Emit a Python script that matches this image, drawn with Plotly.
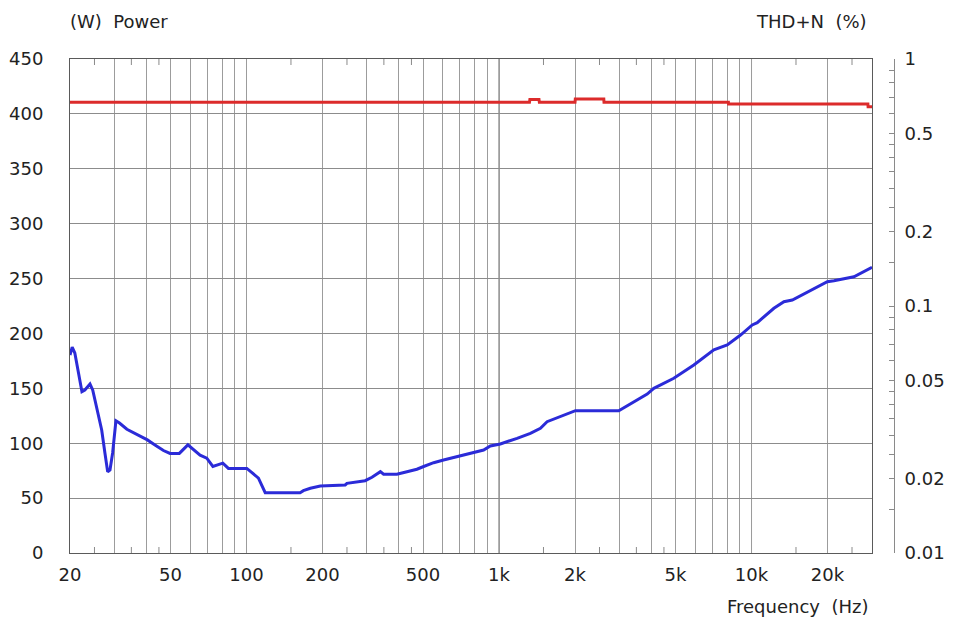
import plotly.graph_objects as go

# ---- data ----
POWER_FREQ = [20, 1320, 1325, 1440, 1445, 2000, 2005, 2600, 2605, 8100, 8110, 28900, 28950, 30000]
POWER_W = [410.5, 410.5, 413, 413, 410.5, 410.5, 413.5, 413.5, 410.5, 410.5, 409, 409, 406.5, 406.5]

THD_FREQ = [20, 20.4, 20.9, 22.3, 22.9, 24.0, 24.6, 25.5, 26.7, 27.5, 28.2, 28.8, 29.5, 30.4, 31.4,
            33.6, 35.1, 37.9, 40.5, 43.4, 46.9, 49.8, 54.2, 58.6, 61.3, 65.5, 69.6, 73.6, 80.6, 84.8,
            100.3, 105, 111.5, 118.6, 163, 168, 179, 196, 246, 250, 295, 314, 339, 349, 394, 432,
            473, 503, 551, 603, 682, 770, 869, 924, 1012, 1179, 1331, 1459, 1550, 2007, 2980, 3862,
            4102, 4922, 5910, 7092, 8014, 9048, 10068, 10538, 12264, 13436, 14506, 19960, 21200,
            25440, 30000]
THD_PCT = [0.0633, 0.0681, 0.0645, 0.0450, 0.0457, 0.0483, 0.0457, 0.0386, 0.0315, 0.0254, 0.0213,
           0.0217, 0.0254, 0.0343, 0.0336, 0.0317, 0.0310, 0.0298, 0.0287, 0.0274, 0.0260, 0.0253,
           0.0253, 0.0274, 0.0264, 0.0249, 0.0242, 0.0224, 0.0231, 0.0220, 0.0220, 0.0211, 0.0201,
           0.01754, 0.01754, 0.01788, 0.01828, 0.01868, 0.01886, 0.01915, 0.01962, 0.02025, 0.02134,
           0.02083, 0.02083, 0.02134, 0.02183, 0.0224, 0.0232, 0.02379, 0.02454, 0.0253, 0.02612,
           0.02711, 0.02763, 0.02913, 0.03052, 0.03198, 0.0340, 0.03768, 0.03768, 0.0440, 0.0464,
           0.0510, 0.0577, 0.0664, 0.0695, 0.0763, 0.0838, 0.0856, 0.0979, 0.1041, 0.1057, 0.1254,
           0.1266, 0.1314, 0.1434]

X_GRID = [30, 40, 50, 60, 70, 80, 90, 100, 200, 300, 400, 500, 600, 700, 800, 900,
          1000, 2000, 3000, 4000, 5000, 6000, 7000, 8000, 9000, 10000, 20000]
X_LABELED = {20: "20", 50: "50", 100: "100", 200: "200", 500: "500", 1000: "1k",
             2000: "2k", 5000: "5k", 10000: "10k", 20000: "20k"}
X_MINOR = [25, 35, 45, 150, 250, 350, 450, 1500, 2500, 3500, 4500, 15000, 25000]
X_DECADES = [100, 1000, 10000]

Y_LEFT_RANGE = [0, 450]
Y_LEFT_TICKS = [0, 50, 100, 150, 200, 250, 300, 350, 400, 450]
Y_RIGHT_TICKS = [1, 0.9, 0.8, 0.7, 0.6, 0.5, 0.45, 0.4, 0.35, 0.3, 0.25, 0.2, 0.15,
                 0.1, 0.09, 0.08, 0.07, 0.06, 0.05, 0.045, 0.04, 0.035, 0.03, 0.025, 0.02, 0.015, 0.01]
Y_RIGHT_LABELS = {1: "1", 0.5: "0.5", 0.2: "0.2", 0.1: "0.1", 0.05: "0.05", 0.02: "0.02", 0.01: "0.01"}

FONT = "DejaVu Sans"
TXT = "#222222"
GRID_LIGHT = "#9c9c9c"
FRAME = "#5a5a5a"

x_tickvals = [20] + X_GRID
x_ticktext = [X_LABELED.get(v, "") for v in x_tickvals]
X_RANGE = [1.30103, 4.4771213]

# page body has an 8px margin: compensate so the plot lands where the reference has it
OFF = 8
W, H = 955 - OFF, 622 - OFF
L, T = 70 - OFF, 59 - OFF
plot_bottom = 553 - OFF
x_right = 872 - OFF
axis2_px = 894 - OFF
R = 50
B = H - plot_bottom
plot_w = W - L - R
plot_h = H - T - B
x_domain = [0, (x_right - L) / plot_w]
# short tick length (6 px) expressed in left-axis units
tick_len = 6 * (Y_LEFT_RANGE[1] - Y_LEFT_RANGE[0]) / plot_h

fig = go.Figure()
fig.add_trace(go.Scatter(x=POWER_FREQ, y=POWER_W, mode="lines",
                         line=dict(color="#dc2b2b", width=3), yaxis="y", showlegend=False))
fig.add_trace(go.Scatter(x=THD_FREQ, y=THD_PCT, mode="lines",
                         line=dict(color="#2b2bd8", width=3), yaxis="y2", showlegend=False))

# darker decade grid lines (axis-referenced so they sit above the plot background)
for d in X_DECADES:
    fig.add_shape(type="line", xref="x", yref="y", x0=d, x1=d,
                  y0=Y_LEFT_RANGE[0], y1=Y_LEFT_RANGE[1],
                  line=dict(color="#686868", width=1), layer="below")
# short half-step ticks at the bottom and top edges
for m in X_MINOR:
    fig.add_shape(type="line", xref="x", yref="y", x0=m, x1=m,
                  y0=Y_LEFT_RANGE[0], y1=Y_LEFT_RANGE[0] + tick_len,
                  line=dict(color="#8a8a8a", width=1), layer="below")
    fig.add_shape(type="line", xref="x", yref="y", x0=m, x1=m,
                  y0=Y_LEFT_RANGE[1] - tick_len, y1=Y_LEFT_RANGE[1],
                  line=dict(color="#8a8a8a", width=1), layer="below")

fig.update_layout(
    width=W, height=H,
    margin=dict(l=L, r=R, t=T, b=B, autoexpand=False),
    paper_bgcolor="white", plot_bgcolor="white",
    font=dict(family=FONT, size=18, color=TXT),
    xaxis=dict(
        type="log", range=X_RANGE, automargin=False, domain=x_domain,
        tickmode="array", tickvals=x_tickvals, ticktext=x_ticktext,
        ticks="", ticklabelstandoff=5,
        showgrid=True, gridcolor=GRID_LIGHT, gridwidth=1,
        showline=True, linecolor=FRAME, linewidth=1, mirror=True,
        zeroline=False,
    ),
    yaxis=dict(
        range=Y_LEFT_RANGE, tickmode="array", tickvals=Y_LEFT_TICKS, automargin=False,
        ticks="", ticklabelstandoff=22,
        showgrid=True, gridcolor="#8c8c8c", gridwidth=1,
        showline=True, linecolor=FRAME, linewidth=1, mirror=True,
        zeroline=False,
    ),
    yaxis2=dict(
        type="log", range=[-2, 0], overlaying="y", anchor="free", side="right",
        position=(axis2_px - L) / plot_w, automargin=False,
        tickmode="array", tickvals=Y_RIGHT_TICKS,
        ticktext=[Y_RIGHT_LABELS.get(v, "") for v in Y_RIGHT_TICKS],
        ticks="inside", ticklen=5, tickcolor="#8a8a8a", tickwidth=1,
        ticklabelstandoff=6,
        showgrid=False, zeroline=False,
        showline=True, linecolor="#8a8a8a", linewidth=1,
    ),
    annotations=[
        dict(text="(W)\u00a0\u00a0Power", xref="paper", yref="paper",
             x=(68 - OFF - L) / plot_w, y=1 + (T - (22 - OFF)) / plot_h,
             xanchor="left", yanchor="middle", showarrow=False,
             font=dict(family=FONT, size=18, color=TXT)),
        dict(text="THD+N\u00a0\u00a0(%)", xref="paper", yref="paper",
             x=(869 - OFF - L) / plot_w, y=1 + (T - (22 - OFF)) / plot_h,
             xanchor="right", yanchor="middle", showarrow=False,
             font=dict(family=FONT, size=18, color=TXT)),
        dict(text="Frequency\u00a0\u00a0(Hz)", xref="paper", yref="paper",
             x=(870 - OFF - L) / plot_w, y=-((606 - OFF) - plot_bottom) / plot_h,
             xanchor="right", yanchor="middle", showarrow=False,
             font=dict(family=FONT, size=18, color=TXT)),
    ],
)

fig.write_html("out.html")
